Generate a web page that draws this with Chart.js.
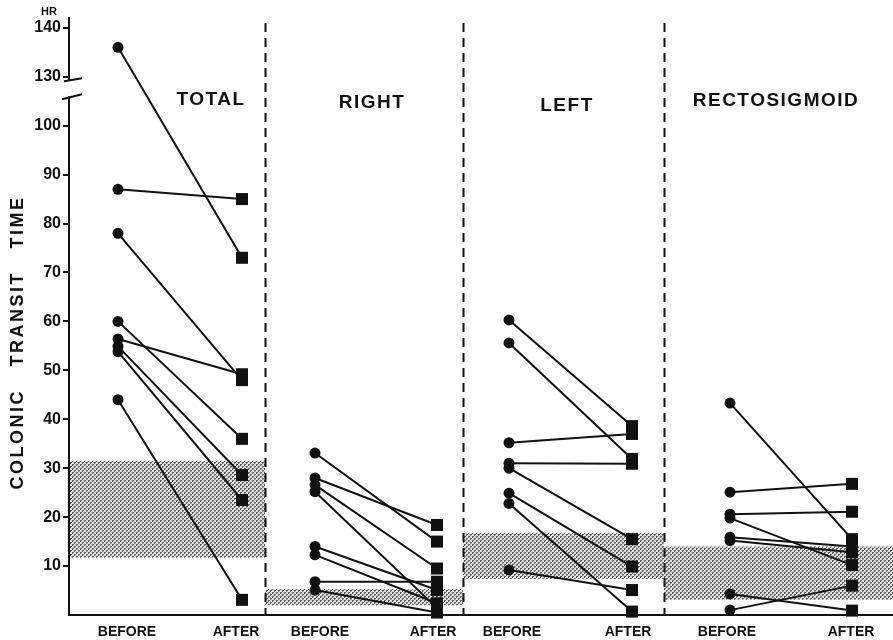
<!DOCTYPE html>
<html>
<head>
<meta charset="utf-8">
<title>Colonic transit time</title>
<script src="https://cdn.jsdelivr.net/npm/chart.js@4.4.0/dist/chart.umd.min.js"></script>
<style>
  html, body { margin: 0; padding: 0; background: #fff; }
  #wrap { width: 893px; height: 640px; }
</style>
</head>
<body>
<div id="wrap"><canvas id="chart" width="893" height="640"></canvas></div>
<script>
// panel names, left to right
const panels = ["TOTAL", "RIGHT", "LEFT", "RECTOSIGMOID"];

// transit time (hours), one entry per patient: before -> after
const totalBefore = [136, 87, 78, 60, 56.4, 54.9, 53.8, 44];
const totalAfter = [73, 85, 48, 36, 49.2, 28.6, 23.5, 3.1];
const rightBefore = [33.1, 28, 26.6, 25.2, 14, 12.3, 6.8, 5.1];
const rightAfter = [15, 18.4, 9.5, 1.4, 5.1, 2.4, 6.8, 0.5];
const leftBefore = [60.3, 55.6, 35.2, 31, 30, 24.9, 22.8, 9.2];
const leftAfter = [38.6, 31.9, 37, 30.9, 15.5, 9.9, 0.7, 5.1];
const rectoBefore = [43.3, 25.1, 20.6, 19.8, 15.9, 15.2, 4.3, 1];
const rectoAfter = [15.5, 26.8, 21.1, 10.2, 14, 12.8, 0.9, 6];

const beforeValues = [totalBefore, rightBefore, leftBefore, rectoBefore];
const afterValues = [totalAfter, rightAfter, leftAfter, rectoAfter];

// normal range (shaded band) of each panel
const normalLow = [11.7, 2, 7.4, 3.1];
const normalHigh = [31.5, 5.3, 16.8, 14];

// tick labels
const yTickValues = [10, 20, 30, 40, 50, 60, 70, 80, 90, 100, 130, 140];
const xTickLabels = ["BEFORE", "AFTER", "BEFORE", "AFTER", "BEFORE", "AFTER", "BEFORE", "AFTER"];

// x layout, in axis units (about 100 px each)
const xMax = 8.24;
const beforeX = [0.49, 2.46, 4.4, 6.61];
const afterX = [1.73, 3.68, 5.63, 7.83];
const panelEdges = [0, 1.96, 3.94, 5.95, 8.24];
const xTickX = [0.58, 1.67, 2.51, 3.64, 4.43, 5.59, 6.58, 7.82];
const titlePos = [[1.42, 105.3], [3.03, 104.7], [4.98, 104.1], [7.07, 105.1]];

// broken axis: everything above the break is pulled down by 20
const BREAK_SHIFT = 20;
const BREAK_FROM = 106;
const BREAK_TO = 109.3;
function toAxis(v) {
  return v > 120 ? v - BREAK_SHIFT : v;
}

const INK = "#111";
const FONT = "'Liberation Sans', Arial, sans-serif";

// one small line per patient
const datasets = [];
panels.forEach((name, p) => {
  beforeValues[p].forEach((b, i) => {
    datasets.push({
      label: name + " " + (i + 1),
      data: [
        { x: beforeX[p], y: toAxis(b) },
        { x: afterX[p], y: toAxis(afterValues[p][i]) },
      ],
      borderColor: INK,
      borderWidth: 2,
      pointStyle: ["circle", "rect"],
      pointRadius: [5.5, 8.5],
      pointHoverRadius: [5.5, 8.5],
      pointBackgroundColor: INK,
      pointBorderColor: INK,
      pointBorderWidth: 0,
      clip: false,
    });
  });
});

// stippled fill like the printed halftone
function dotPattern(ctx) {
  const c = document.createElement("canvas");
  c.width = 4;
  c.height = 4;
  const g = c.getContext("2d");
  g.fillStyle = "#e2e2e2";
  g.fillRect(0, 0, 4, 4);
  g.fillStyle = "#5a5a5a";
  g.fillRect(0, 0, 2, 1);
  g.fillRect(0, 1, 1, 1);
  g.fillRect(2, 2, 2, 1);
  g.fillRect(2, 3, 1, 1);
  return ctx.createPattern(c, "repeat");
}

const decor = {
  id: "decor",
  beforeDatasetsDraw(chart) {
    const { ctx, chartArea } = chart;
    const xs = chart.scales.x;
    const ys = chart.scales.y;

    // normal range bands
    ctx.save();
    ctx.fillStyle = dotPattern(ctx);
    panels.forEach((name, p) => {
      const x0 = Math.max(xs.getPixelForValue(panelEdges[p]), chartArea.left + 1);
      const x1 = xs.getPixelForValue(panelEdges[p + 1]);
      const y0 = ys.getPixelForValue(normalHigh[p]);
      const y1 = ys.getPixelForValue(normalLow[p]);
      ctx.fillRect(x0, y0, x1 - x0, y1 - y0);
    });
    ctx.restore();

    // dashed panel dividers
    ctx.save();
    ctx.strokeStyle = INK;
    ctx.lineWidth = 2;
    ctx.setLineDash([9, 6]);
    for (let p = 1; p < panels.length; p++) {
      const x = Math.round(xs.getPixelForValue(panelEdges[p])) + 0.5;
      ctx.beginPath();
      ctx.moveTo(x, ys.getPixelForValue(121));
      ctx.lineTo(x, chartArea.bottom);
      ctx.stroke();
    }
    ctx.restore();
  },
  afterDraw(chart) {
    const { ctx, chartArea } = chart;
    const xs = chart.scales.x;
    const ys = chart.scales.y;
    const left = chartArea.left;

    // axis break marks
    const yTop = ys.getPixelForValue(BREAK_TO);
    const yBot = ys.getPixelForValue(BREAK_FROM);
    ctx.save();
    ctx.fillStyle = "#fff";
    ctx.fillRect(left - 4, yTop, 8, yBot - yTop);
    ctx.strokeStyle = INK;
    ctx.lineWidth = 2;
    ctx.beginPath();
    ctx.moveTo(left - 5, yTop + 1);
    ctx.lineTo(left + 13, yTop - 2);
    ctx.moveTo(left - 7, yBot + 3);
    ctx.lineTo(left + 13, yBot - 2);
    ctx.stroke();
    ctx.restore();

    // panel titles
    ctx.save();
    ctx.fillStyle = INK;
    ctx.font = "bold 19px " + FONT;
    ctx.letterSpacing = "1.5px";
    ctx.textAlign = "center";
    ctx.textBaseline = "middle";
    panels.forEach((name, p) => {
      ctx.fillText(name, xs.getPixelForValue(titlePos[p][0]), ys.getPixelForValue(titlePos[p][1]));
    });
    ctx.restore();

    // y axis title
    ctx.save();
    ctx.fillStyle = INK;
    ctx.font = "bold 18px " + FONT;
    ctx.letterSpacing = "2.5px";
    ctx.textAlign = "center";
    ctx.textBaseline = "middle";
    ctx.translate(18, (chartArea.top + chartArea.bottom) / 2 + 26);
    ctx.rotate(-Math.PI / 2);
    ctx.fillText("COLONIC   TRANSIT   TIME", 0, 0);
    ctx.restore();

    // unit above the axis
    ctx.save();
    ctx.fillStyle = INK;
    ctx.font = "bold 11px " + FONT;
    ctx.textAlign = "center";
    ctx.textBaseline = "middle";
    ctx.fillText("HR", 49, 12);
    ctx.restore();
  },
};

new Chart(document.getElementById("chart"), {
  type: "line",
  data: { datasets: datasets },
  options: {
    responsive: false,
    animation: false,
    devicePixelRatio: 1,
    layout: { autoPadding: false, padding: { top: 18, right: 0, bottom: 0, left: 0 } },
    plugins: {
      legend: { display: false },
      tooltip: { enabled: false },
    },
    scales: {
      x: {
        type: "linear",
        min: 0,
        max: xMax,
        grid: { display: false, drawTicks: false },
        border: { display: true, color: INK, width: 2 },
        afterBuildTicks: (scale) => {
          scale.ticks = xTickX.map((v) => ({ value: v }));
        },
        afterFit: (scale) => {
          scale.height = 25;
          scale.paddingLeft = 0;
          scale.paddingRight = 0;
        },
        ticks: {
          color: INK,
          padding: 9,
          maxRotation: 0,
          font: { family: FONT, size: 14, weight: "bold" },
          callback: (value, index) => xTickLabels[index],
        },
      },
      y: {
        type: "linear",
        min: 0,
        max: 122,
        grid: { drawOnChartArea: false, drawTicks: true, tickLength: 6, color: INK, lineWidth: 2 },
        border: { display: true, color: INK, width: 2 },
        afterBuildTicks: (scale) => {
          scale.ticks = yTickValues.map((v) => ({ value: toAxis(v) }));
        },
        afterFit: (scale) => {
          scale.width = 69;
        },
        ticks: {
          color: INK,
          padding: 2,
          font: { family: FONT, size: 16, weight: "bold" },
          callback: (value, index) => String(yTickValues[index]),
        },
      },
    },
  },
  plugins: [decor],
});
</script>
</body>
</html>
